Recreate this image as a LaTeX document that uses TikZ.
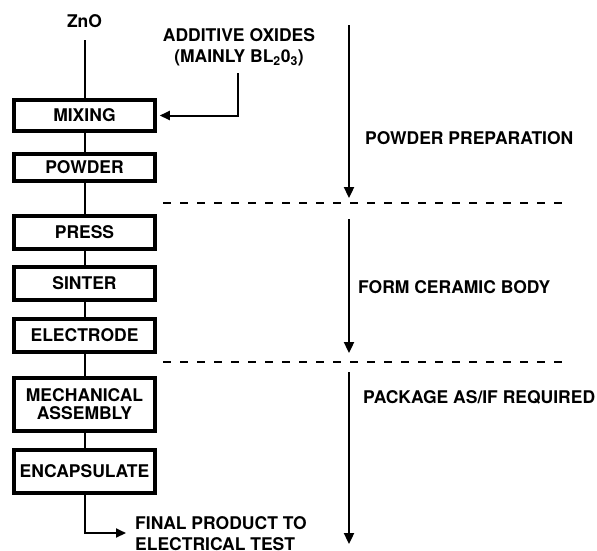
\documentclass[tikz,border=0pt]{standalone}
\usepackage{fontspec}
\setmainfont{TeX Gyre Heros}
\usetikzlibrary{arrows.meta}
\begin{document}
\begin{tikzpicture}[x=1pt,y=-1pt,
  font=\fontsize{17.5}{20}\selectfont\bfseries,
  stepbox/.style={draw,line width=4.5pt,minimum width=141pt,inner sep=0pt,align=center},
  conn/.style={line width=2pt},
  tip/.style={-{Triangle[length=10pt,width=9pt]}},
  phase/.style={line width=2.3pt,-{Triangle[length=11pt,width=10pt]}},
  sep/.style={line width=2.2pt,dash pattern=on 8pt off 9pt},
  lbl/.style={inner sep=0pt,align=left}]
\useasboundingbox (0,0) rectangle (597,550);
% boxes
\node[stepbox,minimum height=31pt] (mix) at (84.5,115.5) {MIXING};
\node[stepbox,minimum height=27pt] (pow) at (84.5,167.5) {POWDER};
\node[stepbox,minimum height=33pt] (press) at (84.5,232.5) {PRESS};
\node[stepbox,minimum height=33pt] (sint) at (84.5,283.5) {SINTER};
\node[stepbox,minimum height=33pt] (elec) at (84.5,335.5) {ELECTRODE};
\node[stepbox,minimum height=53pt] (mech) at (84.5,404.5) {MECHANICAL\\[-2pt]ASSEMBLY};
\node[stepbox,minimum height=43pt] (enc) at (84.5,471.5) {ENCAPSULATE};
% texts
\node[inner sep=0pt] (zno) at (84.5,21) {ZnO};
\node[inner sep=0pt,align=center] (add) at (239,47) {ADDITIVE OXIDES\\[1pt](MAINLY BL\textsubscript{2}0\textsubscript{3})};
\node[lbl,anchor=west] (fin) at (135,534) {FINAL PRODUCT TO\\[1pt]ELECTRICAL TEST};
\node[lbl,anchor=west] (pp) at (365,138) {POWDER PREPARATION};
\node[lbl,anchor=west] (fc) at (358,287) {FORM CERAMIC BODY};
\node[lbl,anchor=west] (pk) at (363,397) {PACKAGE AS/IF REQUIRED};
% connectors
\coordinate (zs) at (84.5,40);
\coordinate (as) at (238,73);
\coordinate (fe) at (126,533);
\draw[conn] (zs) -- (mix.north);
\draw[conn] (mix) -- (pow);
\draw[conn] (pow) -- (press);
\draw[conn] (press) -- (sint);
\draw[conn] (sint) -- (elec);
\draw[conn] (elec) -- (mech);
\draw[conn] (mech) -- (enc);
\draw[conn,tip] (as) |- ([xshift=2.5pt]mix.east);
\draw[conn,tip] (enc.south) |- (fe);
% phases
\coordinate (a1) at (349,25); \coordinate (b1) at (349,198);
\coordinate (a2) at (349,219); \coordinate (b2) at (349,353);
\coordinate (a3) at (349,372); \coordinate (b3) at (349,544);
\draw[phase] (a1) -- (b1);
\draw[phase] (a2) -- (b2);
\draw[phase] (a3) -- (b3);
\coordinate (d1a) at (163,203); \coordinate (d1b) at (562,203);
\coordinate (d2a) at (163,362); \coordinate (d2b) at (562,362);
\draw[sep] (d1a) -- (d1b);
\draw[sep] (d2a) -- (d2b);
\end{tikzpicture}
\end{document}
